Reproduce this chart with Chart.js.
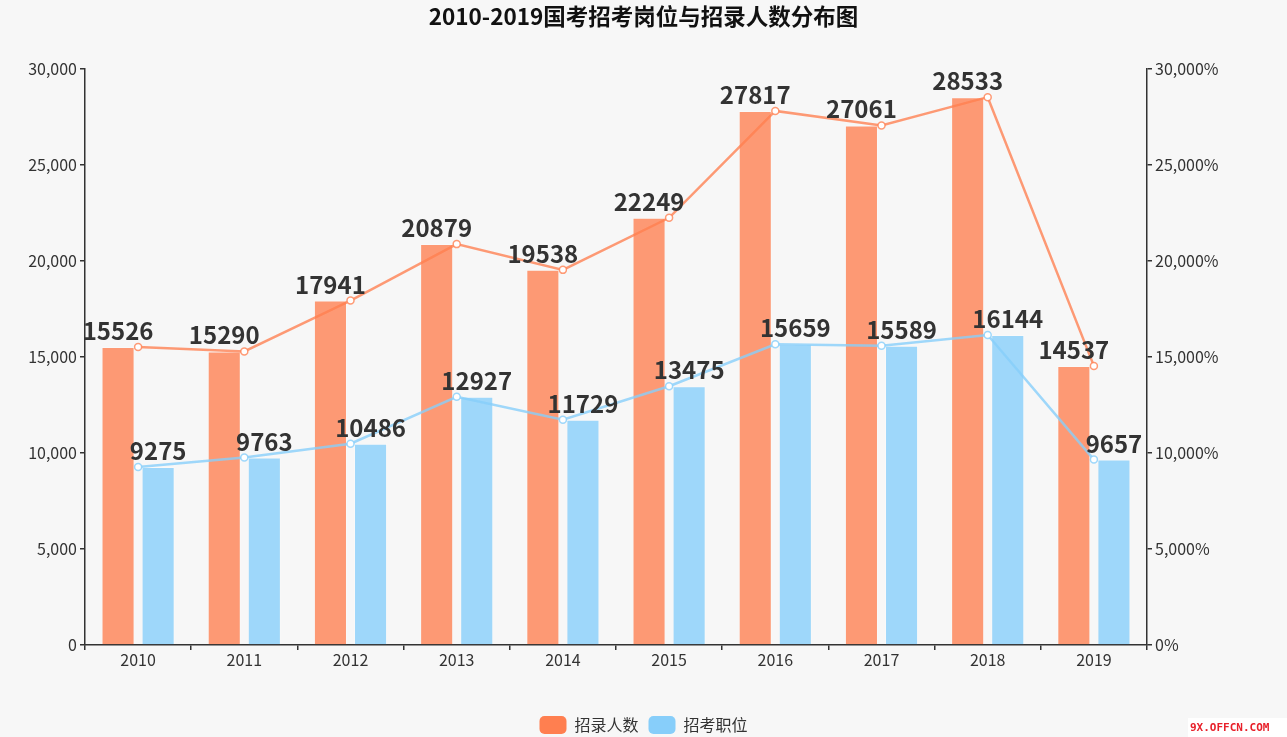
<!DOCTYPE html>
<html lang="zh">
  <head>
    <meta charset="utf-8" />
    <title>2010-2019国考招考岗位与招录人数分布图</title>
    <script src="https://cdn.jsdelivr.net/npm/chart.js@4.4.1/dist/chart.umd.min.js"></script>
    <style>
      html, body { margin: 0; padding: 0; background: #f7f7f7; }
      .chartContainer { width: 1287px; height: 737px; position: relative; overflow: hidden; }
    </style>
  </head>
  <body>
    <div class="chartContainer">
      <canvas id="myChart" width="1287" height="737"></canvas>
    </div>

    <script>
      const years = ['2010', '2011', '2012', '2013', '2014', '2015', '2016', '2017', '2018', '2019'];
      const hired = [15526, 15290, 17941, 20879, 19538, 22249, 27817, 27061, 28533, 14537];
      const posts = [9275, 9763, 10486, 12927, 11729, 13475, 15659, 15589, 16144, 9657];
      const yTicks = [0, 5000, 10000, 15000, 20000, 25000, 30000];

      const fontFamily = '"Noto Sans CJK SC", "Noto Sans", sans-serif';
      Chart.defaults.font.family = fontFamily;
      Chart.defaults.color = '#333';

      const orange = 'rgba(255, 127, 80, 0.78)';
      const blue = 'rgba(135, 206, 250, 0.8)';

      // numbers above the bars + watermark
      const barLabels = {
        id: 'barLabels',
        afterDatasetsDraw(chart) {
          const ctx = chart.ctx;
          ctx.save();
          ctx.font = 'bold 24px ' + fontFamily;
          ctx.fillStyle = '#333';
          ctx.textAlign = 'center';
          ctx.textBaseline = 'alphabetic';
          chart.data.datasets.forEach((ds, i) => {
            if (ds.type !== 'bar') return;
            chart.getDatasetMeta(i).data.forEach((bar, j) => {
              ctx.fillText(ds.data[j], bar.x, bar.y - 7);
            });
          });
          ctx.restore();
        },
        afterDraw(chart) {
          const ctx = chart.ctx;
          ctx.save();
          ctx.fillStyle = '#ffffff';
          ctx.fillRect(1188, 718, 99, 19);
          ctx.font = 'bold 11px "DejaVu Sans Mono", monospace';
          ctx.fillStyle = '#e8202a';
          ctx.textAlign = 'left';
          ctx.textBaseline = 'middle';
          ctx.fillText('9X.OFFCN.COM', 1190, 728);
          ctx.restore();
        }
      };

      const axisStyle = {
        border: { display: true, color: '#333', width: 1.5 },
        grid: { drawOnChartArea: false, drawTicks: true, tickLength: 5, color: '#333', lineWidth: 1.5 }
      };

      const ctx = document.getElementById('myChart').getContext('2d');
      const chart = new Chart(ctx, {
        data: {
          labels: years,
          datasets: [
            {
              type: 'bar', label: '招录人数', data: hired,
              backgroundColor: orange, borderColor: 'rgba(255,255,255,0.25)', borderWidth: 1,
              yAxisID: 'y1', order: 2,
              categoryPercentage: 0.755, barPercentage: 0.825
            },
            {
              type: 'bar', label: '招考职位', data: posts,
              backgroundColor: blue, borderColor: 'rgba(255,255,255,0.25)', borderWidth: 1,
              yAxisID: 'y1', order: 2,
              categoryPercentage: 0.755, barPercentage: 0.825
            },
            {
              type: 'line', label: 'hiredLine', data: hired,
              borderColor: orange, borderWidth: 2.5, tension: 0,
              pointBackgroundColor: '#fff', pointBorderColor: orange, pointBorderWidth: 1.5, pointRadius: 3.5,
              yAxisID: 'y1', order: 1
            },
            {
              type: 'line', label: 'postsLine', data: posts,
              borderColor: blue, borderWidth: 2.5, tension: 0,
              pointBackgroundColor: '#fff', pointBorderColor: blue, pointBorderWidth: 1.5, pointRadius: 3.5,
              yAxisID: 'y1', order: 1
            }
          ]
        },
        options: {
          responsive: false,
          animation: false,
          layout: { padding: { top: 0, bottom: -7, left: 0, right: 0 } },
          plugins: {
            title: {
              display: true,
              text: '2010-2019国考招考岗位与招录人数分布图',
              color: '#111',
              font: { size: 22.5, weight: 'bold' },
              padding: { top: 3, bottom: 39 }
            },
            legend: {
              position: 'bottom',
              labels: {
                generateLabels(chart) {
                  return [
                    { text: '招录人数', fillStyle: '#ff7f50', strokeStyle: '#ff7f50', lineWidth: 0, datasetIndex: 0, borderRadius: 5, fontColor: '#333' },
                    { text: '招考职位', fillStyle: '#87cefa', strokeStyle: '#87cefa', lineWidth: 0, datasetIndex: 1, borderRadius: 5, fontColor: '#333' }
                  ];
                },
                useBorderRadius: true,
                borderRadius: 5,
                boxWidth: 27,
                boxHeight: 18,
                padding: 10,
                font: { size: 16 }
              }
            },
            tooltip: { enabled: false }
          },
          scales: {
            x: {
              ...axisStyle,
              offset: true,
              grid: { ...axisStyle.grid, offset: true },
              ticks: { font: { size: 16 }, color: '#333', padding: 0 },
              afterFit(scale) { scale.height = 61; }
            },
            y1: {
              ...axisStyle,
              position: 'left',
              min: 0, max: 30000,
              afterBuildTicks(scale) { scale.ticks = yTicks.map(v => ({ value: v })); },
              ticks: {
                font: { size: 16 }, color: '#333', padding: 3,
                callback: v => v.toLocaleString('en-US')
              },
              afterFit(scale) { scale.width = 85; }
            },
            y2: {
              ...axisStyle,
              position: 'right',
              min: 0, max: 30000,
              afterBuildTicks(scale) { scale.ticks = yTicks.map(v => ({ value: v })); },
              ticks: {
                font: { size: 16 }, color: '#333', padding: 3,
                callback: v => v.toLocaleString('en-US') + '%'
              },
              afterFit(scale) { scale.width = 140; }
            }
          }
        },
        plugins: [barLabels]
      });
    </script>
  </body>
</html>
